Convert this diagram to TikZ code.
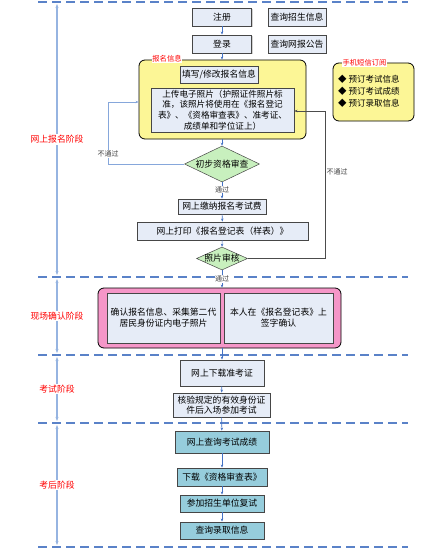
\documentclass[tikz,border=0pt]{standalone}
\usepackage{fontspec}
\setmainfont{Noto Sans CJK SC}
\usetikzlibrary{shapes.geometric,shadows,arrows.meta}
\definecolor{boxfill}{RGB}{230,236,247}
\definecolor{boxline}{RGB}{70,70,70}
\definecolor{tealfill}{RGB}{150,205,220}
\definecolor{pinkfill}{RGB}{245,150,200}
\definecolor{yelfill}{RGB}{252,246,150}
\definecolor{grnfill}{RGB}{200,240,190}
\definecolor{dashblue}{RGB}{90,130,200}
\definecolor{arrblue}{RGB}{68,114,196}
\definecolor{phaseblue}{RGB}{150,180,225}
\begin{document}
\begin{tikzpicture}[x=1pt, y=-1pt,
    every node/.style={font=\fontsize{8.8}{11}\selectfont},
    box/.style={draw=boxline, line width=0.9pt, fill=boxfill, inner sep=1pt,
        drop shadow={shadow xshift=1pt, shadow yshift=-1pt, fill=gray!70}},
    tbox/.style={box, fill=tealfill},
    dia/.style={diamond, draw=boxline, line width=0.5pt, fill=grnfill, inner sep=0pt},
    group/.style={draw=black, line width=0.8pt, rounded corners=6pt, inner sep=0pt},
    tag/.style={fill=white, text=red, inner sep=0.5pt, font=\fontsize{7.3}{9}\selectfont},
    phase/.style={fill=white, text=red, inner sep=1pt},
    note/.style={fill=white, text=black!75, inner sep=0.5pt, font=\fontsize{7}{8}\selectfont},
    flow/.style={arrblue, line width=0.6pt, -{Stealth[length=3pt,width=2.5pt]}},
    sep/.style={dashblue, line width=1.4pt, dash pattern=on 9pt off 5pt},
    span/.style={phaseblue, line width=1.3pt, {Stealth[length=4pt,width=3pt]}-{Stealth[length=4pt,width=3pt]}}]
\useasboundingbox (0,0) rectangle (438,551);
% phase separators
\foreach \y in {2,277,355,423,547}
    \draw[sep] (38,\y) -- (408,\y);
% phase spans
\draw[span] (57,4) -- (57,275) node[midway, phase] (ph1) {网上报名阶段};
\draw[span] (57,279) -- (57,353) node[midway, phase] (ph2) {现场确认阶段};
\draw[span] (57,357) -- (57,421) node[midway, phase] (ph3) {考试阶段};
\draw[span] (57,425) -- (57,545) node[midway, phase] (ph4) {考后阶段};
% online stage
\node[box, minimum width=59pt, minimum height=18pt] (reg) at (222,17) {注册};
\node[box, minimum width=58pt, minimum height=18pt] (qinfo) at (297,17) {查询招生信息};
\node[box, minimum width=59pt, minimum height=18pt] (login) at (222,44) {登录};
\node[box, minimum width=58pt, minimum height=18pt] (qnotice) at (297,44) {查询网报公告};
\node[group, fill=yelfill, minimum width=167pt, minimum height=79pt] (xinfo) at (222.5,99.5) {};
\node[tag] (xtag) at (167,59) {报名信息};
\node[box, minimum width=78pt, minimum height=17pt] (fill) at (219,74.5) {填写/修改报名信息};
\node[box, minimum width=143pt, minimum height=44pt, align=center,
    font=\fontsize{8.6}{10.6}\selectfont] (upload) at (222.5,110)
    {上传电子照片（护照证件照片标\\准，该照片将使用在《报名登记\\表》、《资格审查表》、准考证、\\成绩单和学位证上）};
\node[group, fill=yelfill, minimum width=81pt, minimum height=58pt] (sms) at (373.5,92) {};
\node[tag] (smstag) at (364.5,63) {手机短信订阅};
\node[anchor=west, align=left, inner sep=0pt, font=\fontsize{8.5}{12}\selectfont] (smslist) at (338,91)
    {◆ 预订考试信息\\◆ 预订考试成绩\\◆ 预订录取信息};
\node[dia, minimum width=75pt, minimum height=36pt] (check1) at (222,164) {};
\node (check1txt) at (check1) {初步资格审查};
\node[box, minimum width=88pt, minimum height=15pt] (pay) at (222,206.5) {网上缴纳报名考试费};
\node[box, minimum width=171pt, minimum height=18pt] (print) at (222.5,231) {网上打印《报名登记表（样表）》};
\node[dia, minimum width=51pt, minimum height=23pt] (check2) at (222,258.5) {};
\node (check2txt) at (check2) {照片审核};
% on-site stage
\node[group, fill=pinkfill, minimum width=243pt, minimum height=60pt] (onsite) at (219.5,318) {};
\node[box, minimum width=113pt, minimum height=50pt, align=center] (confirm) at (163.5,318)
    {确认报名信息、采集第二代\\居民身份证内电子照片};
\node[box, minimum width=109pt, minimum height=50pt, align=center] (sign) at (278.5,318)
    {本人在《报名登记表》上\\签字确认};
% exam stage
\node[box, minimum width=84pt, minimum height=26pt] (admit) at (222,373) {网上下载准考证};
\node[box, minimum width=97pt, minimum height=24pt, align=center,
    font=\fontsize{8.8}{10}\selectfont] (verify) at (221.5,405)
    {核验规定的有效身份证\\件后入场参加考试};
% after the exam
\node[tbox, minimum width=94pt, minimum height=22pt] (score) at (222,442) {网上查询考试成绩};
\node[tbox, minimum width=90pt, minimum height=18pt] (dl) at (222,477) {下载《资格审查表》};
\node[tbox, minimum width=84pt, minimum height=17pt] (retest) at (222,503.5) {参加招生单位复试};
\node[tbox, minimum width=84pt, minimum height=17pt] (result) at (222,530.5) {查询录取信息};
% connectors
\draw[flow] (reg) -- (login);
\draw[flow] (login) -- (login |- xinfo.north);
\draw[flow] (xinfo.south -| check1) -- (check1.north);
\draw[flow] (check1.south) -- (pay) node[pos=0.45, note] (pass1) {通过};
\draw[flow] (pay) -- (print);
\draw[flow] (print) -- (check2.north);
\draw[flow] (check2.south) -- (check2 |- onsite.north) node[pos=0.5, note] (pass2) {通过};
\draw[flow] (onsite.south -| admit) -- (admit);
\draw[flow] (admit) -- (verify);
\draw[flow] (verify) -- (score);
\draw[flow] (score) -- (dl);
\draw[flow] (dl) -- (retest);
\draw[flow] (retest) -- (result);
% rejections
\coordinate (lbend) at (108,102);
\coordinate (rbend) at (325,111);
\draw[flow, phaseblue!80!arrblue] (check1.west) -| (lbend) -- (lbend -| xinfo.west);
\node[note] (fail1) at (108,154) {不通过};
\draw[flow, black!70] (check2.east) -| (rbend) -- (rbend -| upload.east);
\node[note, anchor=west] (fail2) at (326,172) {不通过};
\end{tikzpicture}
\end{document}
